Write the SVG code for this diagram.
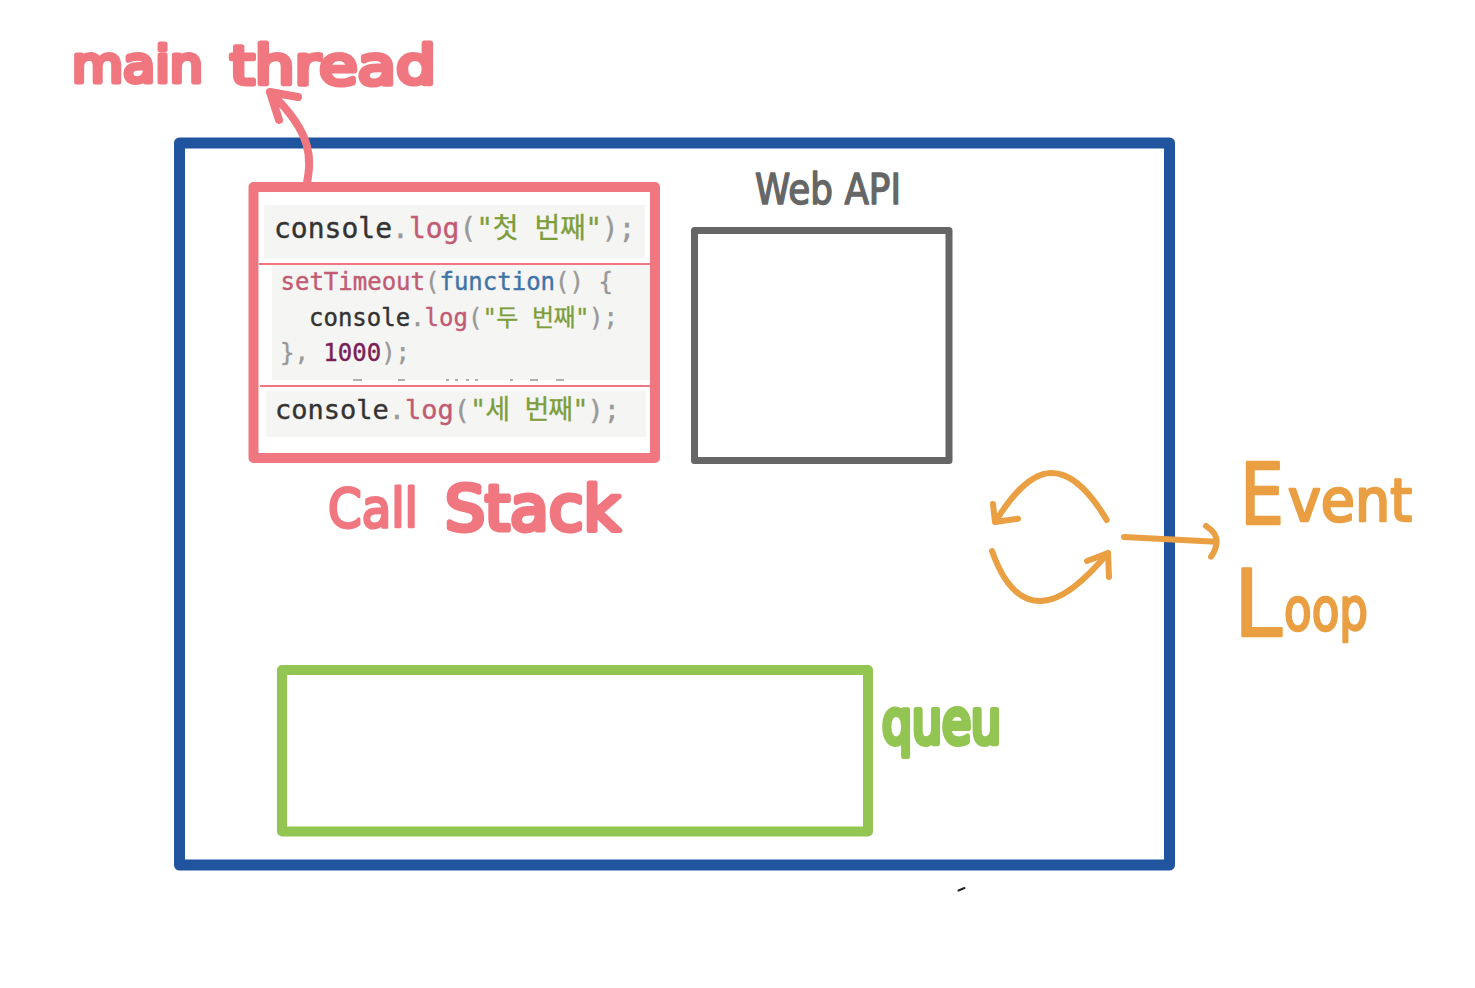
<svg xmlns="http://www.w3.org/2000/svg" width="1475" height="988" viewBox="0 0 1475 988">
<style>
.box{fill:none;stroke-linejoin:round}
.code{font-family:"DejaVu Sans Mono","Noto Sans CJK KR",monospace;white-space:pre}
.hand{font-family:"DejaVu Sans","Noto Sans",sans-serif;stroke-linejoin:round;stroke-linecap:round}
.red{fill:#F07780;stroke:#F07780}
.org{fill:#E99F42;stroke:#E99F42}
.k{fill:#333;stroke:#333;stroke-width:.4}.p{fill:#999;stroke:#999;stroke-width:.4}.f{fill:#C25B74;stroke:#C25B74;stroke-width:.4}.s{fill:#7D9E3C;stroke:#7D9E3C;stroke-width:.3}.b{fill:#3F74A8;stroke:#3F74A8;stroke-width:.4}.n{fill:#7A1F57;stroke:#7A1F57;stroke-width:.4}
.bg{fill:#F5F5F3}
.wire{fill:none;stroke-linecap:round;stroke-linejoin:round}
</style>
<rect width="1475" height="988" fill="#fff"/>
<g id="main-thread-box"><rect class="box" x="179.500" y="143" width="990" height="722" stroke="#21549E" stroke-width="11"/></g>
<g id="call-stack">
<rect class="bg" x="264" y="205" width="381" height="53"/>
<rect class="bg" x="272" y="265" width="378" height="115"/>
<rect class="bg" x="266" y="391" width="380" height="46"/>
<path d="M353 380h9M398 380h7M446 380h3M455 380h3M466 380h3M475 380h3M510 380h3M530 380h8M556 380h8" stroke="#9a9a9a" stroke-width="1.500" fill="none"/>
<rect class="box" x="253.500" y="187" width="401.500" height="271" stroke="#F07780" stroke-width="10"/>
<path d="M259 264H650M260 386H650" stroke="#F07780" stroke-width="2" fill="none"/>
<text class="code" x="274" y="238" font-size="28" xml:space="preserve"><tspan class="k">console</tspan><tspan class="p">.</tspan><tspan class="f">log</tspan><tspan class="p">(</tspan><tspan class="s" letter-spacing="-.4">"첫 번째"</tspan><tspan class="p">);</tspan></text>
<text class="code" x="280.500" y="290" font-size="24" xml:space="preserve"><tspan class="f">setTimeout</tspan><tspan class="p">(</tspan><tspan class="b">function</tspan><tspan class="p">() {</tspan></text>
<text class="code" x="309" y="326" font-size="24" xml:space="preserve"><tspan class="k">console</tspan><tspan class="p">.</tspan><tspan class="f">log</tspan><tspan class="p">(</tspan><tspan class="s" letter-spacing="-.5">"두 번째"</tspan><tspan class="p">);</tspan></text>
<text class="code" x="280" y="361" font-size="24" xml:space="preserve"><tspan class="p">}, </tspan><tspan class="n">1000</tspan><tspan class="p">);</tspan></text>
<text class="code" x="275" y="419" font-size="27" xml:space="preserve"><tspan class="k">console</tspan><tspan class="p">.</tspan><tspan class="f">log</tspan><tspan class="p">(</tspan><tspan class="s" letter-spacing="-1">"세 번째"</tspan><tspan class="p">);</tspan></text>
<text class="hand red" x="328" y="527" font-size="54" stroke-width="3" textLength="90" lengthAdjust="spacingAndGlyphs">Call</text>
<text class="hand red" x="445" y="530" font-size="62" stroke-width="5" textLength="175" lengthAdjust="spacingAndGlyphs">Stack</text>
</g>
<g id="web-api">
<rect class="box" x="694.500" y="230.500" width="254.500" height="230" stroke="#666" stroke-width="7"/>
<text class="hand" x="755" y="204" font-size="42" fill="#666" stroke="#666" stroke-width="1.500" textLength="146" lengthAdjust="spacingAndGlyphs">Web API</text>
</g>
<g id="queue">
<rect class="box" x="282" y="670" width="586" height="161.500" stroke="#92C551" stroke-width="10"/>
<text class="hand" x="882" y="743" font-size="60" fill="#92C551" stroke="#92C551" stroke-width="6" textLength="119" lengthAdjust="spacingAndGlyphs">queu</text>
</g>
<g id="main-thread-label"><text class="hand red" x="72" y="82" font-size="50" stroke-width="5" textLength="131" lengthAdjust="spacingAndGlyphs">main</text>
<text class="hand red" x="230" y="84" font-size="54" stroke-width="5" textLength="206" lengthAdjust="spacingAndGlyphs">thread</text></g>
<g id="event-loop-label"><text class="hand org" x="1240" y="524" font-size="86" stroke-width="2.500" textLength="44" lengthAdjust="spacingAndGlyphs">E</text>
<text class="hand org" x="1288" y="521" font-size="58" stroke-width="2.500" textLength="124" lengthAdjust="spacingAndGlyphs">vent</text>
<text class="hand org" x="1234" y="636" font-size="92" stroke-width="2.500" textLength="48" lengthAdjust="spacingAndGlyphs">L</text>
<text class="hand org" x="1284" y="630" font-size="58" stroke-width="2.500" textLength="84" lengthAdjust="spacingAndGlyphs">oop</text></g>
<g id="connectors">
<path class="wire" stroke="#F07780" stroke-width="8" d="M307 183C311 160 314 135 272 94M270 92L298 97M270 92L279 120"/>
<g stroke="#E99F42" stroke-width="6" class="wire">
<path d="M1106.700 520C1085 483 1065 472 1050 473C1030 474 1012 495 995 522M995 522L993 504M995 522L1018 518.700"/>
<path d="M992 551C1004 585 1020 601 1040 601C1062 601 1085 580 1108 553M1108 553L1087 561M1108 553L1109 577"/>
<path d="M1124 537L1216 541.700M1206 526Q1217 533 1216.700 542Q1216 550 1211 556.700"/>
</g>
</g>
<path d="M958.500 890.500L964.500 888" stroke="#222" stroke-width="2" stroke-linecap="round" fill="none"/>
</svg>
